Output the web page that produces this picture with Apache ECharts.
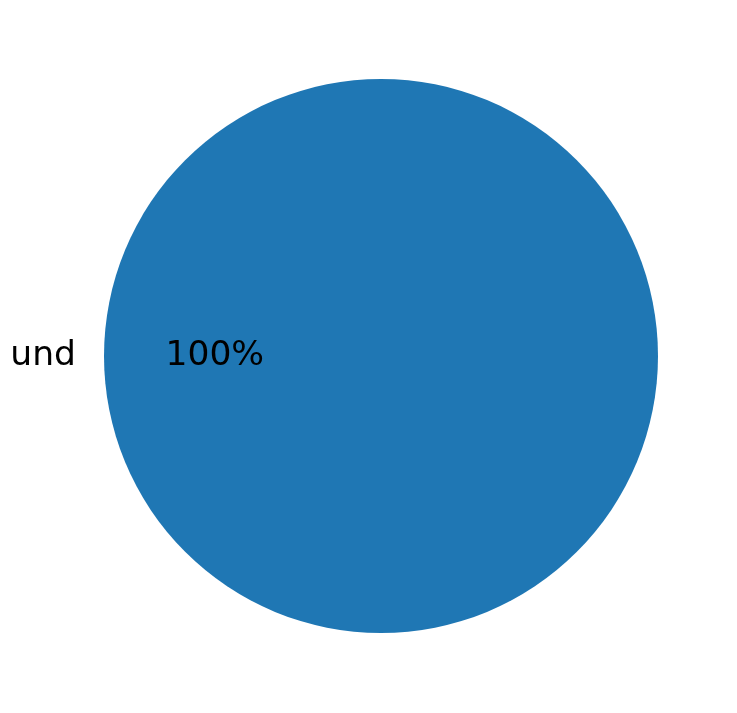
<!DOCTYPE html>
<html>
<head>
<meta charset="utf-8">
<script src="https://cdn.jsdelivr.net/npm/echarts@6/dist/echarts.min.js"></script>
<style>
html,body{margin:0;padding:0;background:#fff;}
#chart{width:737px;height:713px;}
</style>
</head>
<body>
<div id="chart"></div>
<script>
var categories = ['und'];
var values = [1];
var colors = ['#1f77b4'];

var data = categories.map(function (c, i) {
  return { name: c, value: values[i], itemStyle: { color: colors[i] } };
});

var R = 277;
var chart = echarts.init(document.getElementById('chart'), null, { renderer: 'canvas' });
chart.setOption({
  backgroundColor: '#ffffff',
  animation: false,
  series: [
    {
      type: 'pie',
      center: [381, 356],
      radius: [0, R],
      startAngle: 0,
      clockwise: false,
      silent: true,
      data: data,
      label: {
        show: true,
        position: 'outside',
        formatter: '{b}',
        fontFamily: 'DejaVu Sans',
        fontSize: 34.5,
        padding: [6, 0, 0, 0],
        color: '#000'
      },
      labelLine: { show: false, length: 23, length2: 0 }
    },
    {
      type: 'pie',
      center: [381, 356],
      radius: [0.6 * R - 13, 0.6 * R + 7],
      startAngle: 0,
      clockwise: false,
      silent: true,
      data: data.map(function (d) {
        return { name: d.name, value: d.value, itemStyle: { color: 'rgba(0,0,0,0)' } };
      }),
      label: {
        show: true,
        position: 'inside',
        formatter: function (p) { return Math.round(p.percent) + '%'; },
        fontFamily: 'DejaVu Sans',
        fontSize: 34.5,
        padding: [6, 0, 0, 0],
        color: '#000'
      },
      labelLine: { show: false }
    }
  ]
});
</script>
</body>
</html>
